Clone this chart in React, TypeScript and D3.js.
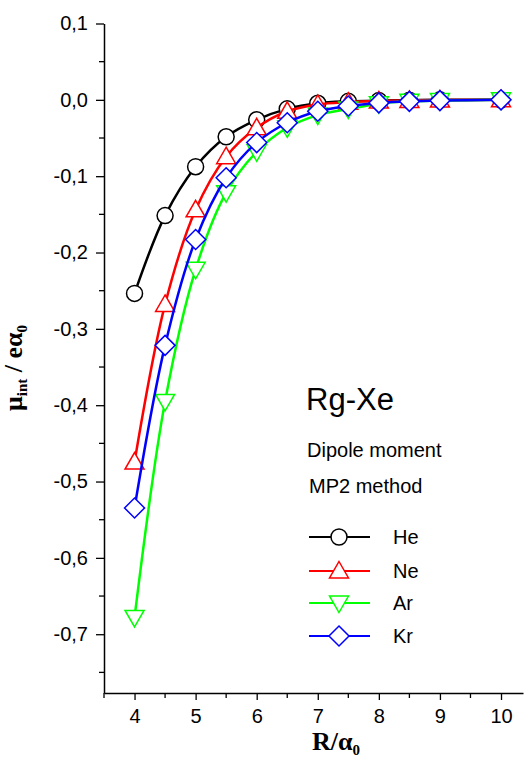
import React, { useEffect, useRef } from 'react';
import * as d3 from 'd3';

const distances = [4, 4.5, 5, 5.5, 6, 6.5, 7, 7.5, 8, 8.5, 9, 10];
const heValues = [-0.2536, -0.1516, -0.0876, -0.0484, -0.0261, -0.0118, -0.0045, -0.002, -0.001, -0.0005, 0, 0];
const neValues = [-0.4745, -0.268, -0.144, -0.0745, -0.0366, -0.015, -0.006, -0.003, -0.0015, -0.0008, -0.0003, 0];
const arValues = [-0.678, -0.395, -0.222, -0.1216, -0.068, -0.0366, -0.02, -0.012, -0.005, -0.002, -0.001, 0];
const krValues = [-0.5346, -0.3216, -0.183, -0.102, -0.056, -0.03, -0.015, -0.008, -0.004, -0.002, -0.001, 0];

const seriesNames = ['He', 'Ne', 'Ar', 'Kr'];
const seriesColors = ['#000000', '#ff0000', '#00ff00', '#0000ff'];
const seriesMarkers = ['circle', 'triUp', 'triDown', 'diamond'];

const yMajorTicks = [-0.7, -0.6, -0.5, -0.4, -0.3, -0.2, -0.1, 0, 0.1];
const yMinorTicks = [-0.75, -0.65, -0.55, -0.45, -0.35, -0.25, -0.15, -0.05, 0.05];
const xMajorTicks = [4, 5, 6, 7, 8, 9, 10];
const xMinorTicks = [3.5, 4.5, 5.5, 6.5, 7.5, 8.5, 9.5];

const markerPath = (kind: string) => {
  if (kind === 'circle') return d3.symbol(d3.symbolCircle, 201)();
  if (kind === 'triUp') return 'M0,-9.5L9.5,7L-9.5,7Z';
  if (kind === 'triDown') return 'M0,9.5L9.5,-7L-9.5,-7Z';
  return 'M0,-10L10,0L0,10L-10,0Z';
};

const App = () => {
  const svgRef = useRef<SVGSVGElement>(null);

  useEffect(() => {
    const svg = d3.select(svgRef.current);
    svg.selectAll('*').remove();

    const x = d3.scaleLinear().domain([3.5, 10.36]).range([104, 523]);
    const y = d3.scaleLinear().domain([-0.777, 0.1]).range([693, 23.5]);

    const locale = d3.formatLocale({ decimal: ',', thousands: '.', grouping: [3], currency: ['', ''], minus: '-' });
    const fmt = locale.format('.1f');
    const font = 'Liberation Sans, Arial, sans-serif';
    const serif = 'Liberation Serif, Times New Roman, serif';

    // y axis
    const yAxis = svg.append('g').attr('transform', 'translate(104,0)');
    yAxis.call(
      d3.axisLeft(y).tickValues(yMajorTicks).tickSize(8).tickSizeOuter(0).tickPadding(8)
        .tickFormat((d) => fmt(d as number))
    );
    yAxis.append('g').selectAll('line').data(yMinorTicks).join('line')
      .attr('x1', -5).attr('x2', 0).attr('y1', (d) => y(d)).attr('y2', (d) => y(d))
      .attr('stroke', '#000').attr('stroke-width', 1.3);
    yAxis.selectAll('.tick line').attr('stroke-width', 1.3);
    yAxis.selectAll('.tick text').attr('font-size', 20).attr('font-family', font).attr('fill', '#000');
    yAxis.select('.domain').attr('stroke-width', 1.5);

    // x axis
    const xAxis = svg.append('g').attr('transform', 'translate(0,693)');
    xAxis.call(
      d3.axisBottom(x).tickValues(xMajorTicks).tickSize(7).tickSizeOuter(0).tickPadding(9)
        .tickFormat(d3.format('d'))
    );
    xAxis.append('g').selectAll('line').data(xMinorTicks).join('line')
      .attr('x1', (d) => x(d)).attr('x2', (d) => x(d)).attr('y1', 0).attr('y2', 5)
      .attr('stroke', '#000').attr('stroke-width', 1.3);
    xAxis.selectAll('.tick line').attr('stroke-width', 1.3);
    xAxis.selectAll('.tick text').attr('font-size', 20).attr('font-family', font).attr('fill', '#000');
    xAxis.select('.domain').attr('stroke-width', 1.5);

    // axis titles
    const xTitle = svg.append('text').attr('x', 336).attr('y', 750).attr('text-anchor', 'middle')
      .attr('font-family', serif).attr('font-weight', 'bold').attr('font-size', 26);
    xTitle.append('tspan').text('R/α');
    xTitle.append('tspan').attr('font-size', 15).attr('dy', 5).text('0');

    const yTitle = svg.append('text').attr('transform', 'translate(22,368) rotate(-90)').attr('text-anchor', 'middle')
      .attr('font-family', serif).attr('font-weight', 'bold').attr('font-size', 26);
    yTitle.append('tspan').text('μ');
    yTitle.append('tspan').attr('font-size', 15).attr('dy', 5).text('int');
    yTitle.append('tspan').attr('dy', -5).text(' / eα');
    yTitle.append('tspan').attr('font-size', 15).attr('dy', 5).text('0');

    // series
    const allValues = [heValues, neValues, arValues, krValues];
    const line = d3.line<[number, number]>().x((d) => x(d[0])).y((d) => y(d[1])).curve(d3.curveCatmullRom.alpha(0.5));

    allValues.forEach((vals, i) => {
      const pts = distances.map((d, j) => [d, vals[j]] as [number, number]);
      svg.append('path').attr('d', line(pts)).attr('fill', 'none')
        .attr('stroke', seriesColors[i]).attr('stroke-width', 2.5);
      svg.append('g').selectAll('path').data(pts).join('path')
        .attr('transform', (d) => `translate(${x(d[0])},${y(d[1])})`)
        .attr('d', markerPath(seriesMarkers[i]))
        .attr('fill', '#fff').attr('stroke', seriesColors[i]).attr('stroke-width', 1.5);
    });

    // annotations
    svg.append('text').attr('x', 306).attr('y', 410).attr('font-family', font).attr('font-size', 31).text('Rg-Xe');
    svg.append('text').attr('x', 307).attr('y', 457).attr('font-family', font).attr('font-size', 20).text('Dipole moment');
    svg.append('text').attr('x', 309).attr('y', 493).attr('font-family', font).attr('font-size', 20).text('MP2 method');

    // legend
    const legendY = [537, 571, 603, 636];
    seriesNames.forEach((name, i) => {
      const g = svg.append('g').attr('transform', `translate(0,${legendY[i]})`);
      g.append('line').attr('x1', 309).attr('x2', 370).attr('y1', 0).attr('y2', 0)
        .attr('stroke', seriesColors[i]).attr('stroke-width', 2);
      g.append('path').attr('transform', 'translate(339,0)').attr('d', markerPath(seriesMarkers[i]))
        .attr('fill', '#fff').attr('stroke', seriesColors[i]).attr('stroke-width', 1.5);
      g.append('text').attr('x', 393).attr('y', 7).attr('font-family', font).attr('font-size', 20).text(name);
    });
  }, []);

  return (
    <svg
      ref={svgRef}
      width={526}
      height={762}
      style={{ position: 'absolute', left: 0, top: 0, background: '#fff' }}
    />
  );
};

export default App;
